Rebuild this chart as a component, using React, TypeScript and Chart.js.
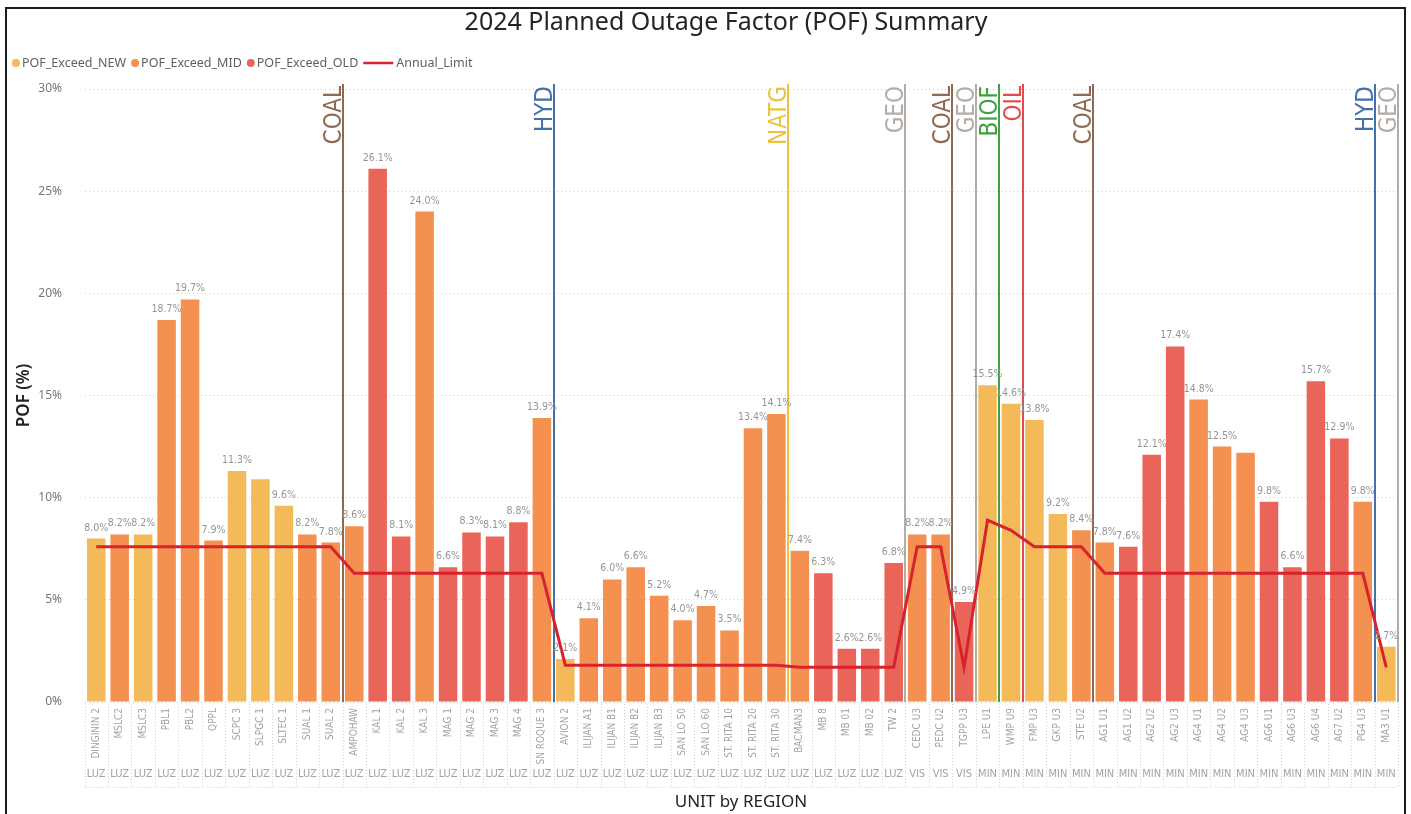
import React, { useEffect, useRef } from "react";
import { Chart, registerables } from "chart.js";

Chart.register(...registerables);

// ---------- data ----------
const units = [
  "DINGININ 2", "MSLC2", "MSLC3", "PBL1", "PBL2", "QPPL", "SCPC 3", "SLPGC 1", "SLTEC 1", "SUAL 1", "SUAL 2",
  "AMPOHAW", "KAL 1", "KAL 2", "KAL 3", "MAG 1", "MAG 2", "MAG 3", "MAG 4", "SN ROQUE 3",
  "AVION 2", "ILIJAN A1", "ILIJAN B1", "ILIJAN B2", "ILIJAN B3", "SAN LO 50", "SAN LO 60", "ST. RITA 10", "ST. RITA 20", "ST. RITA 30",
  "BACMAN3", "MB 8", "MB 01", "MB 02", "TW 2",
  "CEDC U3", "PEDC U2", "TGPP U3",
  "LPE U1", "WMP U9", "FMP U3", "GKP U3", "STE U2",
  "AG1 U1", "AG1 U2", "AG2 U2", "AG2 U3", "AG4 U1", "AG4 U2", "AG4 U3", "AG6 U1", "AG6 U3", "AG6 U4", "AG7 U2", "PG4 U3",
  "MA3 U1",
];

const regions = [
  "LUZ", "LUZ", "LUZ", "LUZ", "LUZ", "LUZ", "LUZ", "LUZ", "LUZ", "LUZ", "LUZ",
  "LUZ", "LUZ", "LUZ", "LUZ", "LUZ", "LUZ", "LUZ", "LUZ", "LUZ",
  "LUZ", "LUZ", "LUZ", "LUZ", "LUZ", "LUZ", "LUZ", "LUZ", "LUZ", "LUZ",
  "LUZ", "LUZ", "LUZ", "LUZ", "LUZ",
  "VIS", "VIS", "VIS",
  "MIN", "MIN", "MIN", "MIN", "MIN",
  "MIN", "MIN", "MIN", "MIN", "MIN", "MIN", "MIN", "MIN", "MIN", "MIN", "MIN", "MIN",
  "MIN",
];

const pofNew = [
  8.0, null, 8.2, null, null, null, 11.3, 10.9, 9.6, null, null,
  null, null, null, null, null, null, null, null, null,
  2.1, null, null, null, null, null, null, null, null, null,
  null, null, null, null, null,
  null, null, null,
  15.5, 14.6, 13.8, 9.2, null,
  null, null, null, null, null, null, null, null, null, null, null, null,
  2.7,
];

const pofMid = [
  null, 8.2, null, 18.7, 19.7, 7.9, null, null, null, 8.2, 7.8,
  8.6, null, null, 24.0, null, null, null, null, 13.9,
  null, 4.1, 6.0, 6.6, 5.2, 4.0, 4.7, 3.5, 13.4, 14.1,
  7.4, null, null, null, null,
  8.2, 8.2, null,
  null, null, null, null, 8.4,
  7.8, null, null, null, 14.8, 12.5, 12.2, null, null, null, null, 9.8,
  null,
];

const pofOld = [
  null, null, null, null, null, null, null, null, null, null, null,
  null, 26.1, 8.1, null, 6.6, 8.3, 8.1, 8.8, null,
  null, null, null, null, null, null, null, null, null, null,
  null, 6.3, 2.6, 2.6, 6.8,
  null, null, 4.9,
  null, null, null, null, null,
  null, 7.6, 12.1, 17.4, null, null, null, 9.8, 6.6, 15.7, 12.9, null,
  null,
];

const annualLimit = [
  7.6, 7.6, 7.6, 7.6, 7.6, 7.6, 7.6, 7.6, 7.6, 7.6, 7.6,
  6.3, 6.3, 6.3, 6.3, 6.3, 6.3, 6.3, 6.3, 6.3,
  1.8, 1.8, 1.8, 1.8, 1.8, 1.8, 1.8, 1.8, 1.8, 1.8,
  1.7, 1.7, 1.7, 1.7, 1.7,
  7.6, 7.6, 1.7,
  8.9, 8.4, 7.6, 7.6, 7.6,
  6.3, 6.3, 6.3, 6.3, 6.3, 6.3, 6.3, 6.3, 6.3, 6.3, 6.3, 6.3,
  1.7,
];

const yTicks = [0, 5, 10, 15, 20, 25, 30];

// value labels that the original hides
const hiddenValueLabels = ["SLPGC 1", "AG4 U3"];

// fuel type groups: each label marks the group ending at lastUnit
const typeGroups = [
  { type: "COAL", lastUnit: "SUAL 2" },
  { type: "HYD", lastUnit: "SN ROQUE 3" },
  { type: "NATG", lastUnit: "ST. RITA 30" },
  { type: "GEO", lastUnit: "TW 2" },
  { type: "COAL", lastUnit: "PEDC U2" },
  { type: "GEO", lastUnit: "TGPP U3" },
  { type: "BIOF", lastUnit: "LPE U1" },
  { type: "OIL", lastUnit: "WMP U9" },
  { type: "COAL", lastUnit: "STE U2" },
  { type: "HYD", lastUnit: "PG4 U3" },
  { type: "GEO", lastUnit: "MA3 U1" },
];

// ---------- styles ----------
const typeColors: Record<string, string> = {
  COAL: "#8E6A55",
  HYD: "#4670A8",
  NATG: "#EAC43E",
  GEO: "#B3ADA8",
  BIOF: "#3FA13F",
  OIL: "#E24B4E",
};

const COLOR_NEW = "#F4BA5A";
const COLOR_MID = "#F49050";
const COLOR_OLD = "#EA6559";
const COLOR_LIMIT = "#D8232E";

const FONT_NARROW = "'Liberation Sans Narrow', 'DejaVu Sans Condensed', 'Roboto Condensed', sans-serif";
const FONT_UI = "'Noto Sans', 'Open Sans', sans-serif";

const overlayPlugin = {
  id: "overlay",
  beforeDatasetsDraw(chart: any) {
    const { ctx, chartArea, scales } = chart;
    const x = scales.x;
    const step = x.getPixelForValue(1) - x.getPixelForValue(0);
    ctx.save();
    typeGroups.forEach((g) => {
      const i = units.indexOf(g.lastUnit);
      const px = Math.round(x.getPixelForValue(i) + step / 2);
      const color = typeColors[g.type];
      ctx.strokeStyle = color;
      ctx.lineWidth = 2;
      ctx.beginPath();
      ctx.moveTo(px, chartArea.top - 5);
      ctx.lineTo(px, chartArea.bottom);
      ctx.stroke();
      ctx.save();
      ctx.translate(px - 2, chartArea.top - 3);
      ctx.rotate(-Math.PI / 2);
      ctx.font = `24px ${FONT_NARROW}`;
      ctx.fillStyle = color;
      ctx.textAlign = "right";
      ctx.textBaseline = "alphabetic";
      ctx.fillText(g.type, 0, 0);
      ctx.restore();
    });
    ctx.restore();
  },
  afterDatasetsDraw(chart: any) {
    const { ctx, scales } = chart;
    const x = scales.x;
    const y = scales.y;
    ctx.save();
    ctx.font = `10.5px ${FONT_NARROW}`;
    ctx.fillStyle = "#959595";
    ctx.textAlign = "center";
    ctx.textBaseline = "alphabetic";
    units.forEach((u, i) => {
      if (hiddenValueLabels.includes(u)) return;
      const v = pofNew[i] ?? pofMid[i] ?? pofOld[i];
      if (v == null) return;
      ctx.fillText(`${v.toFixed(1)}%`, x.getPixelForValue(i), y.getPixelForValue(v) - 8);
    });
    ctx.restore();
  },
  afterDraw(chart: any) {
    const { ctx, chartArea, scales } = chart;
    const x = scales.x;
    const y = scales.y;
    const step = x.getPixelForValue(1) - x.getPixelForValue(0);
    ctx.save();

    // title
    ctx.font = `25px ${FONT_UI}`;
    ctx.fillStyle = "#252423";
    ctx.textAlign = "center";
    ctx.textBaseline = "middle";
    ctx.fillText("2024 Planned Outage Factor (POF) Summary", 726, 23);

    // legend
    const legendItems = chart.data.datasets
      .map((d: any) => d)
      .sort((a: any, b: any) => (a.legendRank ?? 0) - (b.legendRank ?? 0));
    let lx = 12;
    const ly = 63;
    ctx.font = `12.5px ${FONT_UI}`;
    ctx.textAlign = "left";
    ctx.textBaseline = "middle";
    legendItems.forEach((d: any) => {
      if (d.type === "line") {
        ctx.strokeStyle = d.borderColor;
        ctx.lineWidth = 2.5;
        ctx.beginPath();
        ctx.moveTo(lx, ly);
        ctx.lineTo(lx + 30, ly);
        ctx.stroke();
        lx += 33;
      } else {
        ctx.fillStyle = d.backgroundColor;
        ctx.beginPath();
        ctx.arc(lx + 4, ly, 4, 0, Math.PI * 2);
        ctx.fill();
        lx += 10;
      }
      ctx.fillStyle = "#605E5C";
      ctx.fillText(d.label, lx, ly);
      lx += ctx.measureText(d.label).width + 5;
    });

    // y tick labels
    ctx.font = `12px ${FONT_UI}`;
    ctx.fillStyle = "#777777";
    ctx.textAlign = "right";
    ctx.textBaseline = "middle";
    yTicks.forEach((t) => {
      ctx.fillText(`${t}%`, 62, y.getPixelForValue(t));
    });

    // y axis title
    ctx.save();
    ctx.translate(24, (chartArea.top + chartArea.bottom) / 2);
    ctx.rotate(-Math.PI / 2);
    ctx.font = `600 17px ${FONT_UI}`;
    ctx.fillStyle = "#252423";
    ctx.textAlign = "center";
    ctx.textBaseline = "middle";
    ctx.fillText("POF (%)", 0, 0);
    ctx.restore();

    // x axis category separators
    const sepTop = chartArea.bottom + 2;
    const sepBottom = chartArea.bottom + 85;
    ctx.strokeStyle = "#cfcfcf";
    ctx.lineWidth = 1;
    ctx.setLineDash([1, 2]);
    for (let i = 0; i <= units.length; i++) {
      const px = Math.round(x.getPixelForValue(0) - step / 2 + i * step) + 0.5;
      ctx.beginPath();
      ctx.moveTo(px, sepTop);
      ctx.lineTo(px, sepBottom);
      ctx.stroke();
    }
    ctx.beginPath();
    ctx.moveTo(chartArea.left, sepBottom + 0.5);
    ctx.lineTo(chartArea.right, sepBottom + 0.5);
    ctx.stroke();
    ctx.setLineDash([]);

    // unit labels (rotated)
    ctx.font = `10px ${FONT_NARROW}`;
    ctx.fillStyle = "#a3a3a3";
    units.forEach((u, i) => {
      ctx.save();
      ctx.translate(x.getPixelForValue(i), chartArea.bottom + 6);
      ctx.rotate(-Math.PI / 2);
      ctx.textAlign = "right";
      ctx.textBaseline = "middle";
      ctx.fillText(u, 0, 0);
      ctx.restore();
    });

    // region labels
    ctx.font = `11px ${FONT_NARROW}`;
    ctx.fillStyle = "#a3a3a3";
    ctx.textAlign = "center";
    ctx.textBaseline = "middle";
    regions.forEach((r, i) => {
      ctx.fillText(r, x.getPixelForValue(i), chartArea.bottom + 72);
    });

    // x axis title
    ctx.font = `17px ${FONT_UI}`;
    ctx.fillStyle = "#252423";
    ctx.textAlign = "center";
    ctx.textBaseline = "middle";
    ctx.fillText("UNIT by REGION", 741, 802);

    ctx.restore();
  },
};

export default function App() {
  const canvasRef = useRef<HTMLCanvasElement | null>(null);

  useEffect(() => {
    document.body.style.margin = "0";
    const canvas = canvasRef.current;
    if (!canvas) return;
    const chart = new Chart(canvas, {
      type: "bar",
      data: {
        labels: units,
        datasets: [
          {
            type: "line",
            label: "Annual_Limit",
            data: annualLimit,
            borderColor: COLOR_LIMIT,
            backgroundColor: COLOR_LIMIT,
            borderWidth: 3,
            pointRadius: 0,
            tension: 0,
            order: 0,
            legendRank: 3,
          } as any,
          {
            label: "POF_Exceed_NEW",
            data: pofNew,
            backgroundColor: COLOR_NEW,
            barPercentage: 0.79,
            categoryPercentage: 1,
            order: 1,
            legendRank: 0,
          } as any,
          {
            label: "POF_Exceed_MID",
            data: pofMid,
            backgroundColor: COLOR_MID,
            barPercentage: 0.79,
            categoryPercentage: 1,
            order: 1,
            legendRank: 1,
          } as any,
          {
            label: "POF_Exceed_OLD",
            data: pofOld,
            backgroundColor: COLOR_OLD,
            barPercentage: 0.79,
            categoryPercentage: 1,
            order: 1,
            legendRank: 2,
          } as any,
        ],
      },
      options: {
        responsive: false,
        animation: false,
        layout: { padding: { left: 84.5, right: 13, top: 89, bottom: 112 } },
        plugins: {
          legend: { display: false },
          tooltip: { enabled: false },
          title: { display: false },
        },
        scales: {
          x: {
            stacked: true,
            offset: true,
            grid: { display: false, drawTicks: false },
            border: { display: false },
            ticks: { display: false },
          },
          y: {
            min: 0,
            max: 30,
            stacked: false,
            ticks: { display: false, stepSize: 5 },
            grid: { color: "#cccccc", lineWidth: 1, drawTicks: false },
            border: { display: false, dash: [1, 3] },
          },
        },
      },
      plugins: [overlayPlugin],
    });
    return () => chart.destroy();
  }, []);

  return (
    <div style={{ position: "relative", width: 1411, height: 814, overflow: "hidden", background: "#fff" }}>
      <canvas ref={canvasRef} width={1411} height={814} style={{ position: "absolute", left: 0, top: 0 }} />
      <div
        style={{
          position: "absolute",
          left: 5,
          top: 7,
          width: 1397,
          height: 840,
          border: "2px solid #1b1b1b",
          pointerEvents: "none",
        }}
      />
    </div>
  );
}
